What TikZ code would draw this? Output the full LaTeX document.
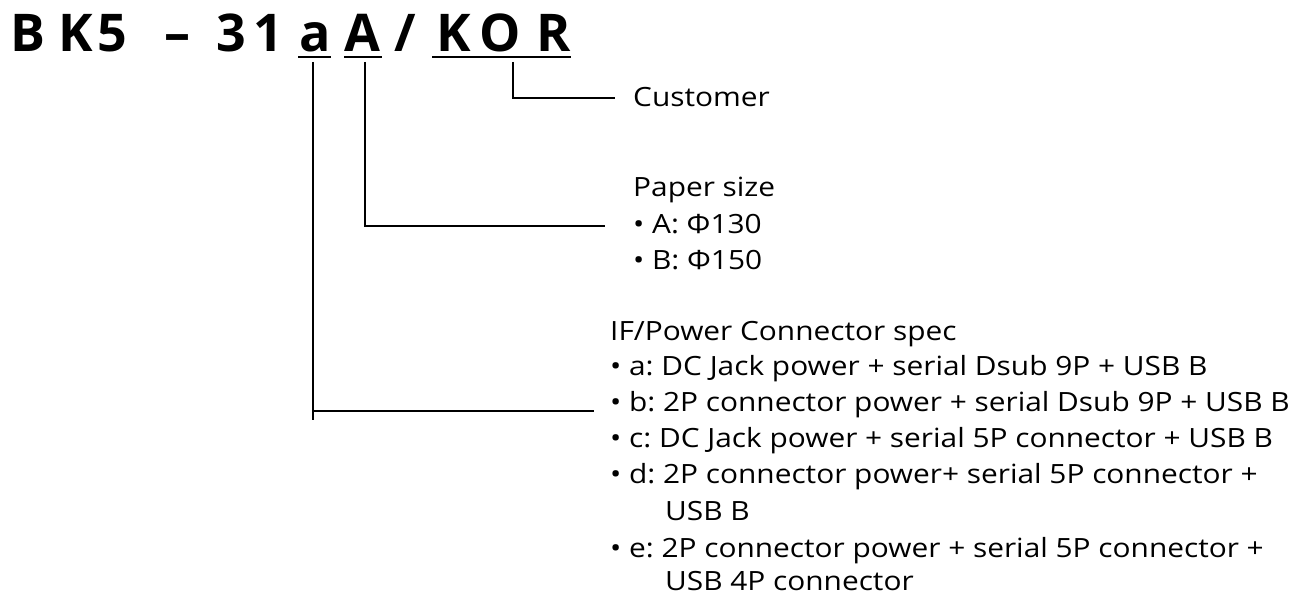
\documentclass[tikz,border=0pt]{standalone}
\usepackage{fontspec}
\usepackage{graphicx}
\setmainfont{Open Sans}
\frenchspacing
\newcommand{\wide}[1]{\scalebox{1.126}[1]{#1}}
\begin{document}
\begin{tikzpicture}[x=1pt,y=-1pt,
  ttl/.style={inner sep=0pt,anchor=base,font=\fontsize{52}{52}\selectfont\bfseries},
  txt/.style={inner sep=0pt,anchor=base west,font=\fontsize{26.5}{30}\selectfont},
  ln/.style={line width=1.6pt,line cap=butt}]
\useasboundingbox (0,0) rectangle (1310,596);
% title characters
\node[ttl] (t1) at (27.5,52) {B};
\node[ttl] (t2) at (75.5,52) {K};
\node[ttl] (t3) at (112,52) {5};
\node[ttl] (t4) at (177,52) {–};
\node[ttl] (t5) at (231.5,52) {3};
\node[ttl] (t6) at (268.5,52) {1};
\node[ttl] (ta) at (315.5,52) {a};
\node[ttl] (tA) at (362.5,52) {A};
\node[ttl] (t9) at (405.5,52) {/};
\node[ttl] (tK) at (453.5,52) {K};
\node[ttl] (tO) at (500,52) {O};
\node[ttl] (tR) at (554,52) {R};
% underlines
\draw[ln] (298,57) -- (331,57);
\draw[ln] (344,57) -- (382,57);
\draw[ln] (432,57) -- (571,57);
% labels
\node[txt] (cust) at (633,107) {\wide{Customer}};
\node[txt] (ps) at (633,197) {\wide{Paper size}};
\node[txt] (psA) at (633,234) {\wide{• A: Φ130}};
\node[txt] (psB) at (633,270) {\wide{• B: Φ150}};
\node[txt] (ifh) at (610,340) {\wide{IF/Power Connector spec}};
\node[txt] (ifa) at (610,375) {\wide{• a: DC Jack power + serial Dsub 9P + USB B}};
\node[txt] (ifb) at (610,411) {\wide{• b: 2P connector power + serial Dsub 9P + USB B}};
\node[txt] (ifc) at (610,447) {\wide{• c: DC Jack power + serial 5P connector + USB B}};
\node[txt] (ifd) at (610,483) {\wide{• d: 2P connector power+ serial 5P connector +}};
\node[txt] (ifd2) at (665,520) {\wide{USB B}};
\node[txt] (ife) at (610,557) {\wide{• e: 2P connector power + serial 5P connector +}};
\node[txt] (ife2) at (665,590) {\wide{USB 4P connector}};
% connector end points
\coordinate (ea) at (594,411);
\coordinate (eA) at (605,226);
\coordinate (eK) at (615,98);
% connectors
\draw[ln] (313,62) -- (313,420);
\draw[ln] (313,411) -- (ea);
\draw[ln] (365,62) |- (eA);
\draw[ln] (513,62) |- (eK);
\end{tikzpicture}
\end{document}
